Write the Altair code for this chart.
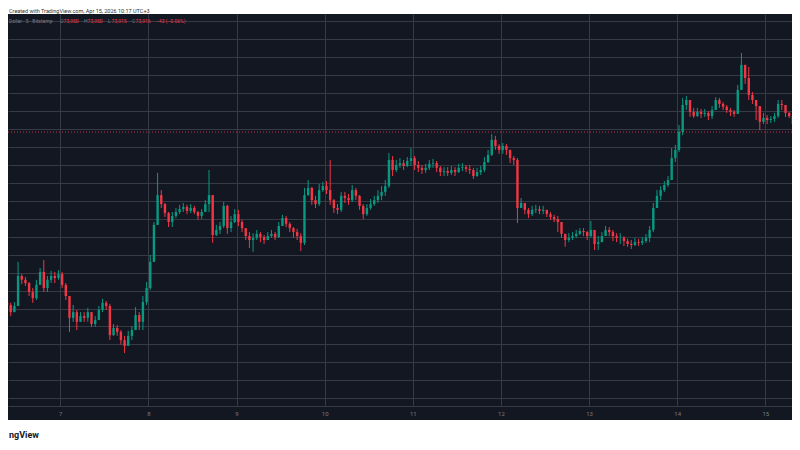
import altair as alt
import pandas as pd

# ---- data: hourly BTC/USD candles (prices in USD) ----
start_day = 6
start_hour = 9
first_open = 69180

close_d6 = [69100, 68900, 69070, 69910, 69800, 69710, 69460, 69290, 69660, 70020, 69570, 69800, 69910, 69850, 69960]
high_d6 = [69240, 69160, 69180, 70300, 69960, 69880, 69740, 69570, 69800, 70130, 70350, 69910, 70050, 70020, 70070]
low_d6 = [68960, 68790, 68900, 69180, 69680, 69630, 69350, 69160, 69240, 69660, 69460, 69460, 69710, 69710, 69800]

close_d7 = [69660, 69350, 68740, 68900, 68630, 68790, 68740, 68900, 68570, 68680, 68960, 69160, 69070, 68260, 68460, 68350, 68120, 67960, 68240, 68400, 68820, 68630, 69180, 69570]
high_d7 = [70020, 69710, 69350, 69100, 68960, 68900, 68900, 69020, 68900, 68790, 69070, 69270, 69210, 69130, 68570, 68540, 68400, 68240, 68380, 68510, 69040, 68900, 69350, 69740]
low_d7 = [69570, 69240, 68350, 68630, 68400, 68630, 68630, 68630, 68490, 68490, 68680, 68900, 68960, 68120, 68240, 68240, 67990, 67760, 67990, 68120, 68400, 68400, 68400, 69100]

close_d8 = [70300, 71330, 72160, 71910, 71660, 71410, 71580, 71690, 71770, 71830, 71720, 71800, 71690, 71580, 71690, 71910, 72160, 71050, 71190, 71300, 71860, 71240, 71410, 71630]
high_d8 = [70490, 71410, 72780, 72300, 71940, 71690, 71690, 71800, 71890, 71940, 71890, 71910, 71860, 71720, 71770, 72020, 72860, 72160, 71330, 71410, 71970, 71890, 71580, 71770]
low_d8 = [69520, 70300, 71330, 71800, 71550, 71270, 71270, 71520, 71630, 71690, 71630, 71660, 71630, 71470, 71490, 71690, 71690, 70830, 71020, 71080, 71240, 71080, 71130, 71380]

close_d9 = [71410, 71240, 71020, 70910, 70970, 71080, 70990, 70910, 71020, 71080, 70990, 71300, 71520, 71360, 71240, 71130, 71020, 70830, 72160, 72360, 72020, 71910, 72300, 72410]
high_d9 = [71750, 71470, 71220, 71130, 71100, 71190, 71130, 71050, 71130, 71190, 71130, 71410, 71610, 71580, 71410, 71270, 71220, 71100, 72360, 72580, 72390, 72140, 72470, 72530]
low_d9 = [71300, 71130, 70910, 70690, 70580, 70910, 70850, 70800, 70910, 70970, 70910, 70970, 71300, 71270, 71130, 70970, 70910, 70600, 70770, 72140, 71890, 71800, 71860, 72250]

close_d10 = [72300, 72020, 71800, 71750, 72140, 72080, 72020, 72300, 72140, 71860, 71630, 71800, 71910, 72020, 72140, 72250, 72410, 73140, 72860, 73000, 73050, 72970, 73110, 73190]
high_d10 = [72550, 73140, 72050, 71910, 72250, 72250, 72190, 72440, 72360, 72160, 71910, 71910, 72050, 72140, 72300, 72410, 72580, 73330, 73250, 73140, 73190, 73140, 73220, 73470]
low_d10 = [72190, 71890, 71660, 71630, 71690, 71940, 71890, 71970, 72020, 71750, 71490, 71580, 71750, 71860, 71940, 72020, 72140, 72360, 72690, 72800, 72920, 72860, 72940, 72970]

close_d11 = [73000, 72920, 72860, 72920, 73030, 73050, 72920, 72800, 72830, 72780, 72860, 72800, 72920, 72940, 72890, 72860, 72690, 72800, 72860, 73080, 73280, 73700, 73530, 73420]
high_d11 = [73250, 73110, 73000, 73030, 73140, 73170, 73110, 72970, 72940, 72940, 72970, 72940, 73030, 73050, 73000, 73000, 72920, 72920, 72970, 73220, 73420, 73860, 73810, 73580]
low_d11 = [72860, 72800, 72750, 72780, 72860, 72920, 72800, 72690, 72690, 72690, 72720, 72690, 72780, 72830, 72800, 72750, 72610, 72670, 72720, 72800, 73050, 73250, 73420, 73310]

close_d12 = [73530, 73420, 73190, 73140, 71800, 71940, 71750, 71630, 71750, 71770, 71720, 71750, 71630, 71550, 71490, 71410, 71080, 70910, 70970, 71020, 71080, 71160, 71130, 71020]
high_d12 = [73610, 73580, 73420, 73250, 73190, 72080, 71940, 71800, 71860, 71890, 71860, 71860, 71750, 71690, 71610, 71580, 71410, 71080, 71100, 71130, 71190, 71240, 71240, 71160]
low_d12 = [73310, 73280, 73050, 73000, 71380, 71800, 71630, 71520, 71580, 71660, 71630, 71630, 71550, 71470, 71410, 71130, 70970, 70720, 70850, 70910, 70970, 71050, 71020, 70910]

close_d13 = [71190, 70800, 70850, 71020, 71190, 71130, 71020, 70970, 70970, 70880, 70800, 70770, 70850, 70830, 70880, 70970, 71190, 71800, 72140, 72300, 72440, 72580, 73190, 73420]
high_d13 = [71440, 71130, 71020, 71130, 71300, 71270, 71190, 71100, 71100, 71020, 70940, 70910, 70970, 70940, 70990, 71080, 71300, 71940, 72300, 72410, 72550, 72690, 73470, 73560]
low_d13 = [70970, 70630, 70630, 70850, 71020, 71020, 70880, 70850, 70800, 70740, 70720, 70660, 70740, 70740, 70770, 70830, 70850, 71130, 71860, 72020, 72250, 72390, 72580, 73080]

close_d14 = [73920, 74670, 74810, 74480, 74360, 74480, 74420, 74450, 74360, 74530, 74810, 74700, 74620, 74530, 74480, 74420, 75090, 75790, 75420, 74950, 74810, 74640, 74200, 74310]
high_d14 = [74110, 74870, 74920, 74750, 74590, 74590, 74560, 74560, 74500, 74640, 74890, 74870, 74750, 74670, 74590, 74530, 75230, 76120, 75700, 75730, 75030, 74810, 74420, 74450]
low_d14 = [73360, 73830, 74530, 74340, 74310, 74340, 74310, 74340, 74250, 74280, 74640, 74590, 74530, 74450, 74360, 74340, 74480, 75090, 75260, 74810, 74700, 74250, 73970, 74140]

close_d15 = [74250, 74280, 74360, 74700, 74670, 74450, 74360, 74140, 73916]
high_d15 = [74390, 74360, 74450, 74810, 74810, 74640, 74480, 74390, 74200]
low_d15 = [74140, 74170, 74200, 74310, 74530, 74340, 74310, 73970, 73910]

day_ticks = [7, 8, 9, 10, 11, 12, 13, 14, 15]
price_grid = list(range(66500, 77001, 500))
last_price = 73916

legend_name = "Dollar · 5 · Bitstamp"
legend_keys = ["O", "H", "L", "C"]
legend_vals = ["73,950", "73,950", "73,915", "73,916"]
legend_change = "−43 (−0.06%)"
header_text = "Created with TradingView.com, Apr 15, 2026 10:17 UTC+3"
logo_text = "ngView"

# ---- build table ----
closes = close_d6 + close_d7 + close_d8 + close_d9 + close_d10 + close_d11 + close_d12 + close_d13 + close_d14 + close_d15
highs = high_d6 + high_d7 + high_d8 + high_d9 + high_d10 + high_d11 + high_d12 + high_d13 + high_d14 + high_d15
lows = low_d6 + low_d7 + low_d8 + low_d9 + low_d10 + low_d11 + low_d12 + low_d13 + low_d14 + low_d15
assert len(closes) == len(highs) == len(lows)
opens = [first_open] + closes[:-1]
times = [(start_day * 24 + start_hour + i + 0.5) / 24 for i in range(len(closes))]
df = pd.DataFrame({"t": times, "open": opens, "high": highs, "low": lows, "close": closes})
df["dir"] = ["up" if c >= o else "down" for o, c in zip(opens, closes)]

BG = "#131722"
GRID = "#363a45"
UP = "#089981"
DOWN = "#f23645"
FONT = "Roboto"

W, H = 784, 392
xs = alt.Scale(domain=[6.40652, 15.30298], nice=False, zero=False, padding=0)
ys = alt.Scale(domain=[66285.5, 77204.7], nice=False, zero=False, padding=0)
x_axis = alt.Axis(values=day_ticks, format="d", title=None, grid=True, gridColor=GRID, gridWidth=1,
                  ticks=False, tickSize=0, domain=True, domainColor=GRID, labelColor="#787b86",
                  labelFont=FONT, labelFontSize=6, labelPadding=7, labelBaseline="middle")
y_axis = alt.Axis(values=price_grid, labels=False, ticks=False, domain=False, title=None,
                  grid=True, gridColor=GRID, gridWidth=1)
col = alt.Color("dir:N", scale=alt.Scale(domain=["up", "down"], range=[UP, DOWN]), legend=None)

base = alt.Chart(df)
wicks = base.mark_rule(strokeWidth=1).encode(
    x=alt.X("t:Q", scale=xs, axis=x_axis),
    y=alt.Y("low:Q", scale=ys, axis=y_axis),
    y2="high:Q",
    color=col,
)
bodies = base.mark_bar(width=2.4).encode(
    x=alt.X("t:Q", scale=xs, axis=x_axis),
    y=alt.Y("open:Q", scale=ys, axis=y_axis),
    y2="close:Q",
    color=col,
)

one = pd.DataFrame({"price": [last_price]})
price_line = alt.Chart(one).mark_rule(color=DOWN, strokeDash=[1, 2], opacity=0.8, strokeWidth=1).encode(
    y=alt.Y("price:Q", scale=ys, axis=y_axis)
)

top_white = alt.Chart(one).mark_rect(color="white").encode(
    x=alt.value(-10), x2=alt.value(W + 10), y=alt.value(-12), y2=alt.value(0))
bottom_white = alt.Chart(one).mark_rect(color="white").encode(
    x=alt.value(-10), x2=alt.value(W + 10), y=alt.value(406), y2=alt.value(460))

header = alt.Chart(one).mark_text(text=header_text, align="left", baseline="alphabetic", font=FONT,
                                  fontSize=5.5, color="#333333").encode(x=alt.value(1), y=alt.value(-0.7))
logo = alt.Chart(one).mark_text(text=logo_text, align="left", baseline="middle", font=FONT,
                                fontSize=9, fontWeight="bold", color="#131722").encode(x=alt.value(1), y=alt.value(421))

LFS = 5
LY = 7
leg_name = alt.Chart(one).mark_text(text=legend_name, align="left", baseline="middle", font=FONT,
                                    fontSize=LFS, color="#787b86").encode(x=alt.value(1), y=alt.value(LY))
legend_layers = [leg_name]
key_x = [52, 76, 100, 124]
for kx, k, v in zip(key_x, legend_keys, legend_vals):
    legend_layers.append(alt.Chart(one).mark_text(text=k, align="left", baseline="middle", font=FONT,
                                                  fontSize=LFS, color="#787b86").encode(x=alt.value(kx), y=alt.value(LY)))
    legend_layers.append(alt.Chart(one).mark_text(text=v, align="left", baseline="middle", font=FONT,
                                                  fontSize=LFS, color=DOWN).encode(x=alt.value(kx + 3.6), y=alt.value(LY)))
legend_layers.append(alt.Chart(one).mark_text(text=legend_change, align="left", baseline="middle", font=FONT,
                                              fontSize=LFS, color=DOWN).encode(x=alt.value(148), y=alt.value(LY)))

chart = alt.layer(wicks, bodies, price_line, top_white, bottom_white, header, logo, *legend_layers).properties(
    width=W, height=H, background=BG,
    padding={"left": 0, "right": 0, "top": 6, "bottom": 36},
    autosize=alt.AutoSizeParams(type="none"),
).configure_view(stroke="transparent")

chart.save("out.html", embed_options={"renderer": "svg", "actions": False})
